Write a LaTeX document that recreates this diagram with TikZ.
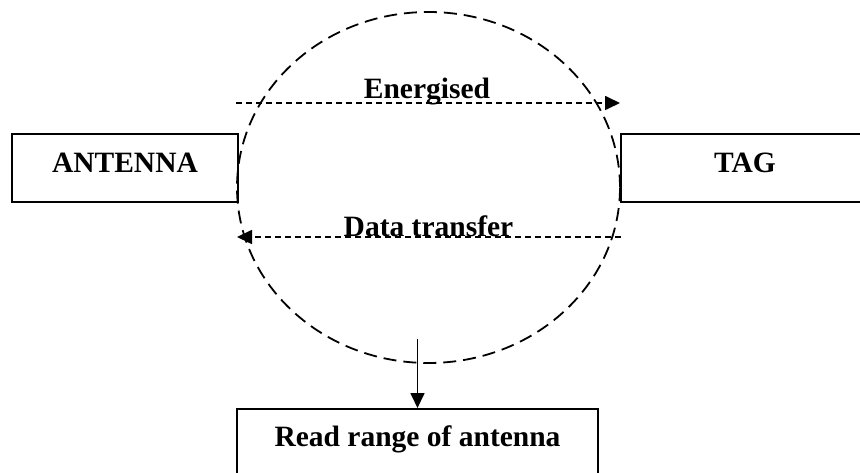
\documentclass[tikz,border=0pt]{standalone}
\usepackage{fontspec}
\setmainfont{Liberation Serif}
\usetikzlibrary{shapes.geometric,arrows.meta}
\begin{document}
\begin{tikzpicture}[x=1pt,y=-1pt,
  font=\fontsize{29.5}{34}\selectfont\bfseries,
  block/.style={draw,line width=1.9pt,inner sep=0pt,anchor=north west},
  tip/.style={-{Triangle[length=15pt,width=14pt]}},
  flow/.style={line width=1.7pt,dash pattern=on 6pt off 4pt,tip},
  lbl/.style={anchor=base,inner sep=0pt}]
\useasboundingbox (0,0) rectangle (860,473);

% read field of the antenna
\node[ellipse,draw,line width=1.8pt,dash pattern=on 13pt off 7pt,
      minimum width=383pt,minimum height=351pt,inner sep=0pt]
      (field) at (428.5,187.5) {};

% blocks
\node[block,minimum width=226pt,text height=39pt,text depth=29pt]
      (antenna) at (11,133) {ANTENNA};
\node[block,minimum width=248pt,text height=39pt,text depth=29pt]
      (tag) at (620,133) {TAG};
\node[block,anchor=north,minimum width=361pt,text height=38pt,text depth=46pt]
      (read) at (417.5,408) {Read range of antenna};

% signal paths
\coordinate (eA) at (236,103);
\coordinate (eB) at (620,103);
\coordinate (dA) at (621,237);
\coordinate (dB) at (237,237);
\coordinate (rr) at (417.5,339);

\draw[flow] (eA) -- (eB);
\node[lbl] (energised) at (427,99) {Energised};
\draw[flow] (dA) -- (dB);
\node[lbl] (data) at (428.5,237) {Data transfer};

\draw[line width=1.7pt,tip] (rr) -- (read.north);
\end{tikzpicture}
\end{document}
